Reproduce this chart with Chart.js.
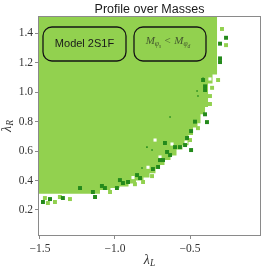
<!DOCTYPE html>
<html>
<head>
<meta charset="utf-8">
<script src="https://cdn.jsdelivr.net/npm/chart.js@4.4.1/dist/chart.umd.min.js"></script>
<style>
  html, body { margin: 0; padding: 0; background: #fff; }
  #wrap { width: 266px; height: 272px; }
</style>
</head>
<body>
<div id="wrap"><canvas id="chart" width="266" height="272"></canvas></div>
<script>
// Outline of the filled (light green) region: lambda_L, lambda_R
const edgeL = [-1.52, -0.32, -0.35, -0.38, -0.40, -0.43, -0.45, -0.48, -0.51, -0.55, -0.59, -0.63,
               -0.67, -0.70, -0.73, -0.77, -0.81, -0.86, -0.91, -0.97, -1.03, -1.10, -1.52];
const edgeR = [1.53, 1.53, 1.12, 1.06, 0.90, 0.85, 0.79, 0.76, 0.71, 0.64, 0.61, 0.57,
               0.54, 0.505, 0.48, 0.45, 0.42, 0.40, 0.38, 0.36, 0.35, 0.335, 0.31];

// dark green cells
const darkL = [-0.26, -0.30, -0.30, -0.30, -0.40, -0.40, -0.40, -0.387, -0.467, -0.493, -0.52, -0.493,
               -0.60, -0.567, -0.533, -0.653, -0.633, -0.70, -0.68, -0.713, -0.747, -0.833, -0.853,
               -0.947, -0.967, -0.987, -0.913, -1.067, -1.087, -1.147, -1.133, -1.233, -1.347,
               -1.433, -1.48, -0.667, -0.413];
const darkR = [1.37, 1.33, 1.23, 1.205, 1.04, 1.015, 0.85, 0.797, 0.80, 0.736, 0.689, 0.607,
               0.627, 0.627, 0.641, 0.594, 0.573, 0.539, 0.539, 0.492, 0.478, 0.417, 0.437,
               0.383, 0.403, 0.349, 0.39, 0.349, 0.363, 0.322, 0.288, 0.349, 0.281,
               0.274, 0.254, 0.655, 1.083];

// light green cells outside the main region
const lightL = [-0.287, -0.26, -0.313, -0.353, -0.367, -0.367, -0.447, -0.50, -0.553, -0.753,
                -0.813, -0.867, -1.467, -1.40, -1.367, -1.30, -1.447, -1.033];
const lightR = [1.43, 1.32, 1.083, 1.03, 0.974, 0.92, 0.756, 0.675, 0.66, 0.43,
                0.39, 0.375, 0.281, 0.254, 0.288, 0.274, 0.247, 0.322];

// empty cells inside the region
const holeL = [-0.367, -0.62, -0.527, -0.733, -0.70, -0.78, -0.88];
const holeR = [1.09, 0.648, 0.661, 0.675, 0.56, 0.49, 0.42];

// small dark dots
const dotL = [-0.633, -0.453, -0.447, -0.787, -0.753, -0.82, -0.413];
const dotR = [0.831, 1.008, 0.975, 0.627, 0.607, 0.485, 1.095];

const xTicks = [-1.5, -1.0, -0.5];
const xTickLabels = ['\u22121.5', '\u22121.0', '\u22120.5'];
const yTicks = [0.2, 0.4, 0.6, 0.8, 1.0, 1.2, 1.4];
const yTickLabels = ['0.2', '0.4', '0.6', '0.8', '1.0', '1.2', '1.4'];

const titleText = 'Profile over Masses';
const modelText = 'Model 2S1F';

const light = '#92d14f';
const dark = '#248a1c';

const pts = (xs, ys) => xs.map((x, i) => ({x: x, y: ys[i]}));

function roundBox(ctx, x, y, w, h, r) {
    ctx.beginPath();
    ctx.moveTo(x + r, y);
    ctx.arcTo(x + w, y, x + w, y + h, r);
    ctx.arcTo(x + w, y + h, x, y + h, r);
    ctx.arcTo(x, y + h, x, y, r);
    ctx.arcTo(x, y, x + w, y, r);
    ctx.closePath();
    ctx.stroke();
}

// draws pieces of text (with subscripts) in a row, centred on cx
function drawParts(ctx, parts, cx, baseline) {
    let total = 0;
    parts.forEach(p => { ctx.font = p.font; total += ctx.measureText(p.t).width + (p.gap || 0); });
    let x = cx - total / 2;
    ctx.textAlign = 'left';
    ctx.textBaseline = 'alphabetic';
    parts.forEach(p => {
        ctx.font = p.font;
        x += (p.gap || 0) / 2;
        ctx.fillText(p.t, x, baseline + (p.dy || 0));
        x += ctx.measureText(p.t).width + (p.gap || 0) / 2;
    });
}

const serif = '"Liberation Serif", "DejaVu Serif", serif';
const sans = '"Liberation Sans", Arial, sans-serif';

const decorations = {
    id: 'decorations',
    afterDatasetsDraw(chart) {
        const {ctx, chartArea: a} = chart;
        ctx.save();

        // frame
        ctx.strokeStyle = '#8a8a8a';
        ctx.lineWidth = 1;
        ctx.strokeRect(a.left + 0.5, a.top + 0.5, a.width - 1, a.height - 1);

        // annotation boxes
        ctx.strokeStyle = '#141414';
        ctx.lineWidth = 1.3;
        roundBox(ctx, a.left + 5, a.top + 11, 83, 34, 9);
        roundBox(ctx, a.left + 96, a.top + 11, 72, 34, 9);

        ctx.fillStyle = '#1a1a1a';
        ctx.font = '11px ' + sans;
        ctx.textAlign = 'center';
        ctx.textBaseline = 'alphabetic';
        ctx.fillText(modelText, a.left + 46.5, a.top + 31);

        ctx.fillStyle = 'rgba(40, 45, 35, 0.75)';
        drawParts(ctx, [
            {t: 'M', font: 'italic 11px ' + serif},
            {t: '\u03c6', font: 'italic 7.5px ' + serif, dy: 2},
            {t: 's', font: 'italic 5.5px ' + serif, dy: 3.5},
            {t: '<', font: '11px ' + serif, gap: 7},
            {t: 'M', font: 'italic 11px ' + serif},
            {t: '\u03c6', font: 'italic 7.5px ' + serif, dy: 2},
            {t: 'd', font: 'italic 5.5px ' + serif, dy: 3.5}
        ], a.left + 130, a.top + 28);

        // title
        ctx.fillStyle = '#1a1a1a';
        ctx.font = '12.5px ' + sans;
        ctx.textAlign = 'center';
        ctx.fillText(titleText, (a.left + a.right) / 2, 13);

        // axis labels
        ctx.fillStyle = '#333';
        drawParts(ctx, [
            {t: '\u03bb', font: 'italic 14px ' + serif},
            {t: 'L', font: 'italic 9.5px ' + serif, dy: 2}
        ], (a.left + a.right) / 2, 264);

        ctx.translate(11, (a.top + a.bottom) / 2);
        ctx.rotate(-Math.PI / 2);
        drawParts(ctx, [
            {t: '\u03bb', font: 'italic 14px ' + serif},
            {t: 'R', font: 'italic 9.5px ' + serif, dy: 2}
        ], 0, 0);

        ctx.restore();
    }
};

const cell = {type: 'scatter', pointStyle: 'rect', pointRadius: 2.8, pointBorderWidth: 0, pointHoverRadius: 2.8};

new Chart(document.getElementById('chart'), {
    type: 'scatter',
    data: {
        datasets: [
            Object.assign({}, cell, {data: pts(dotL, dotR), backgroundColor: dark, pointRadius: 1.1}),
            Object.assign({}, cell, {data: pts(darkL, darkR), backgroundColor: dark}),
            Object.assign({}, cell, {data: pts(lightL, lightR), backgroundColor: light}),
            Object.assign({}, cell, {data: pts(holeL, holeR), backgroundColor: '#ffffff', pointRadius: 2.2}),
            {
                type: 'line',
                data: pts(edgeL, edgeR),
                stepped: 'after',
                fill: 'shape',
                backgroundColor: light,
                borderColor: 'rgba(0,0,0,0)',
                borderWidth: 0,
                pointRadius: 0
            }
        ]
    },
    options: {
        responsive: false,
        animation: false,
        layout: {padding: {left: 0, right: 5, top: 16, bottom: 0}},
        plugins: {legend: {display: false}, tooltip: {enabled: false}, title: {display: false}},
        scales: {
            x: {
                type: 'linear',
                min: -1.513,
                max: -0.027,
                afterBuildTicks: s => { s.ticks = xTicks.map(v => ({value: v})); },
                afterFit: s => { s.height = 36; },
                grid: {drawOnChartArea: false, drawTicks: true, tickLength: 3, color: '#8a8a8a'},
                border: {display: false},
                ticks: {
                    autoSkip: false, maxRotation: 0, padding: 3, color: '#333',
                    font: {family: serif, size: 11.5},
                    callback: (v, i) => xTickLabels[i]
                }
            },
            y: {
                type: 'linear',
                min: 0.023,
                max: 1.518,
                afterBuildTicks: s => { s.ticks = yTicks.map(v => ({value: v})); },
                afterFit: s => { s.width = 38; },
                grid: {drawOnChartArea: false, drawTicks: true, tickLength: 3, color: '#8a8a8a'},
                border: {display: false},
                ticks: {
                    autoSkip: false, padding: 2, color: '#333',
                    font: {family: serif, size: 11.5},
                    callback: (v, i) => yTickLabels[i]
                }
            }
        }
    },
    plugins: [decorations]
});
</script>
</body>
</html>
